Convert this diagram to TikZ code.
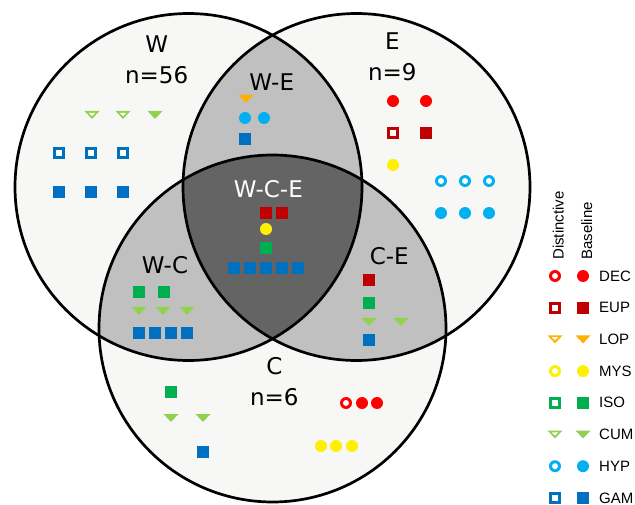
\documentclass[tikz,border=0pt]{standalone}
\usepackage{fontspec}
\setmainfont{DejaVu Sans}
\newfontfamily\legfont{Liberation Sans}
\definecolor{dec}{HTML}{FF0000}
\definecolor{eup}{HTML}{C00000}
\definecolor{lop}{HTML}{FFB000}
\definecolor{mys}{HTML}{FFF000}
\definecolor{iso}{HTML}{00B050}
\definecolor{cum}{HTML}{92D050}
\definecolor{hyp}{HTML}{00B0F0}
\definecolor{gam}{HTML}{0070C0}
\definecolor{lite}{HTML}{F7F8F5}
\definecolor{midgray}{HTML}{C0C0C0}
\definecolor{darkgray}{HTML}{646464}
\tikzset{
  sqF/.pic={\fill[#1] (-6pt,-6pt) rectangle (6pt,6pt);},
  sqH/.pic={\fill[#1] (-6pt,-6pt) rectangle (6pt,6pt); \fill[white] (-3pt,-3pt) rectangle (3pt,3pt);},
  ciF/.pic={\fill[#1] (0,0) circle (6pt);},
  ciH/.pic={\fill[#1] (0,0) circle (6pt); \fill[white] (0,0) circle (3pt);},
  trF/.pic={\fill[#1] (-7.5pt,4pt) -- (7.5pt,4pt) -- (0,-4pt) -- cycle;},
  trH/.pic={\fill[#1] (-7.5pt,4pt) -- (7.5pt,4pt) -- (0,-4pt) -- cycle; \fill[white] (-3.2pt,2.2pt) -- (3.2pt,2.2pt) -- (0,-1.1pt) -- cycle;},
  setlabel/.style={inner sep=0pt, font=\fontsize{23}{27}\selectfont},
  leglabel/.style={inner sep=0pt, anchor=west, font=\legfont\fontsize{15}{18}\selectfont},
  ring/.style={draw=black, line width=2.7pt}
}
\begin{document}
\begin{tikzpicture}[x=1pt,y=-1pt]
\useasboundingbox[fill=white] (0,0) rectangle (635,505);
\coordinate (Wc) at (188.5,187);
\coordinate (Ec) at (356.5,187);
\coordinate (Cc) at (272.5,328.5);
\def\R{173.5pt}
% fills
\fill[lite] (Wc) circle (\R);
\fill[lite] (Ec) circle (\R);
\fill[lite] (Cc) circle (\R);
\begin{scope}
  \clip (Wc) circle (\R);
  \fill[midgray] (Ec) circle (\R);
  \fill[midgray] (Cc) circle (\R);
\end{scope}
\begin{scope}
  \clip (Ec) circle (\R);
  \fill[midgray] (Cc) circle (\R);
\end{scope}
\begin{scope}
  \clip (Wc) circle (\R);
  \clip (Ec) circle (\R);
  \fill[darkgray] (Cc) circle (\R);
\end{scope}
\draw[ring] (Wc) circle (\R);
\draw[ring] (Ec) circle (\R);
\draw[ring] (Cc) circle (\R);

% labels
\node[setlabel] (lW) at (156.7,44) {W};
\node[setlabel] (nW) at (156.7,75) {n=56};
\node[setlabel] (lWE) at (271.7,82) {W-E};
\node[setlabel] (lE) at (392.3,41) {E};
\node[setlabel] (nE) at (392.3,72) {n=9};
\node[setlabel, text=white] (lWCE) at (268.3,189.5) {W-C-E};
\node[setlabel] (lWC) at (165,265) {W-C};
\node[setlabel] (lCE) at (389.3,256) {C-E};
\node[setlabel] (lC) at (274.3,366) {C};
\node[setlabel] (nC) at (274.3,397) {n=6};

% W
\pic at (92,115) {trH=cum}; \pic at (123,115) {trH=cum}; \pic at (155,115) {trF=cum};
\pic at (59,153) {sqH=gam}; \pic at (91,153) {sqH=gam}; \pic at (123,153) {sqH=gam};
\pic at (59,192) {sqF=gam}; \pic at (91,192) {sqF=gam}; \pic at (123,192) {sqF=gam};
% W-E
\pic at (246,99) {trF=lop};
\pic at (245,118) {ciF=hyp}; \pic at (264,118) {ciF=hyp};
\pic at (245,139) {sqF=gam};
% E
\pic at (393,101) {ciF=dec}; \pic at (426,101) {ciF=dec};
\pic at (393,133) {sqH=eup}; \pic at (426,133) {sqF=eup};
\pic at (393,165) {ciF=mys};
\pic at (441,181) {ciH=hyp}; \pic at (465,181) {ciH=hyp}; \pic at (489,181) {ciH=hyp};
\pic at (441,213) {ciF=hyp}; \pic at (465,213) {ciF=hyp}; \pic at (489,213) {ciF=hyp};
% W-C-E
\pic at (266,213) {sqF=eup}; \pic at (282,213) {sqF=eup};
\pic at (266,229) {ciF=mys};
\pic at (266,248) {sqF=iso};
\pic at (234,268) {sqF=gam}; \pic at (250,268) {sqF=gam}; \pic at (266,268) {sqF=gam};
\pic at (282,268) {sqF=gam}; \pic at (298,268) {sqF=gam};
% W-C
\pic at (139,292) {sqF=iso}; \pic at (164,292) {sqF=iso};
\pic at (139,311) {trF=cum}; \pic at (163,311) {trF=cum}; \pic at (187,311) {trF=cum};
\pic at (139,333) {sqF=gam}; \pic at (155,333) {sqF=gam}; \pic at (171,333) {sqF=gam}; \pic at (187,333) {sqF=gam};
% C-E
\pic at (369,280) {sqF=eup};
\pic at (369,303) {sqF=iso};
\pic at (369,322) {trF=cum}; \pic at (401,322) {trF=cum};
\pic at (369,340) {sqF=gam};
% C
\pic at (171,392) {sqF=iso};
\pic at (171,418) {trF=cum}; \pic at (203,418) {trF=cum};
\pic at (203,452) {sqF=gam};
\pic at (346,403) {ciH=dec}; \pic at (362,403) {ciF=dec}; \pic at (377,403) {ciF=dec};
\pic at (321,446) {ciF=mys}; \pic at (336,446) {ciF=mys}; \pic at (352,446) {ciF=mys};

% legend
\node[leglabel, rotate=90] (hD) at (558.3,260) {Distinctive};
\node[leglabel, rotate=90] (hB) at (586.7,260) {Baseline};
\foreach \k/\nm/\sh/\col in {0/DEC/ci/dec,1/EUP/sq/eup,2/LOP/tr/lop,3/MYS/ci/mys,4/ISO/sq/iso,5/CUM/tr/cum,6/HYP/ci/hyp,7/GAM/sq/gam}{
  \pgfmathsetmacro{\yy}{276+31.7*\k}
  \pic at (555,\yy) {\sh H=\col};
  \pic at (583,\yy) {\sh F=\col};
  \node[leglabel] (leg\nm) at (599,\yy) {\nm};
}
\end{tikzpicture}
\end{document}
